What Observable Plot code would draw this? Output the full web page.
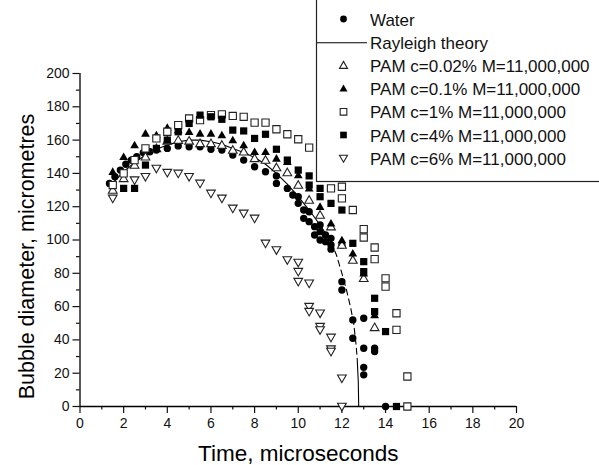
<!DOCTYPE html>
<html><head><meta charset="utf-8">
<script src="https://cdn.jsdelivr.net/npm/d3@7"></script>
<script src="https://cdn.jsdelivr.net/npm/@observablehq/plot@0.6"></script>
<style>
html,body{margin:0;padding:0;background:#fff;}
#chart{width:599px;height:465px;overflow:hidden;}
</style></head><body><div id="chart"></div>
<script>
// ---- data (time in microseconds, bubble diameter in micrometres) ----
const waterT = [1.35,1.6,1.85,2.1,2.35,2.6,2.9,3.2,3.5,4,4.5,5,5.5,6,6.5,7,7.5,8,8.5,9,9,9.5,9.75,10,10,10.25,10.25,10.5,10.5,10.75,10.75,11,11,11,11.25,11.25,11.5,11.5,11.5,12,12,12,12.5,12.5,13,13,13,13,13.5,13.5,14];
const waterD = [134,138,142,145.5,148,150,152.5,153,154,155,156.5,156,156,154.5,154,151,148,144,141,138.5,134,131,127,122,126,118,113,117,111,108,103,109,105,100,103,99,101,97,94.5,97,75,70,52,41,53,35,23.5,19,35,33,0];

const rayT = [1.4,2,2.5,3,3.5,4,4.5,5,5.5,6,6.5,7,7.5,8,8.5,9,9.5,10,10.5,11,11.5,11.75,12,12.2,12.4,12.55,12.65,12.7,12.75,12.77];
const rayD = [133,141,146.5,151,154.5,157,159,160,160,159,157.5,155,152.5,149.5,145.5,140,133.5,126,118,109,99,91,80,70.5,59.5,49,37,29,15,0];

const p002T = [1.5,2,2.5,3,3.5,4,4.5,5,5.5,6,6.5,7,7.5,8,8.5,9,9.5,10,10.5,11,11.5,12,12.5,13,13.5];
const p002D = [130,137,145,150,155,159.5,160,159.5,158,158,157,154,153,149,148,143.5,140.5,133,124,115,108,97,88,77,47.5];

const p01T = [1.5,2,2.5,3,3.5,4,4.5,5,5.5,6,6.5,7,7.5,8,8.5,9,9.5,10,10.5,11,11.5,12,12.5,13,13.5];
const p01D = [141,150,157,164,163,167.5,166,165,164,164,163,160,157,153,153,149,147,139,131,120,110,100,92,80,55];

const p1T = [1.5,2,2.5,3,3.5,4,4.5,5,5.5,6,6.5,7,7.5,8,8.5,9,9.5,10,10.5,11.5,12,12,12.5,13,13,13.5,13.5,14,14,14.5,14.5,15,15];
const p1D = [133,140,148,155,161,165,169,173,172,175,175.5,174.5,174,170.5,170.5,166.5,163.5,160.5,155.5,131,132,125,118,106.5,101.5,95.5,88.5,77,72,56,46,18,0];

const p4T = [2,2.5,3,3.5,4,4.5,5,5.5,6,6.5,7,7.5,8,8.5,9,9.5,10,10.5,10.5,11,11,11.5,12,12.5,13,13,13.5,13.5,14,14.5];
const p4D = [131,131,145,155,160,165,170,175,174,172.5,166,165.5,161,163.5,154.5,148,142,138.5,133,131,126,122,118,98,87,81,65,57,45,0];

const p6T = [1.5,2.5,3,3.5,4,4.5,5,5.5,6,6.5,7,7.5,8,8.5,9,9.5,10,10,10,10.5,10.5,10.5,11,11,11,11.5,11.5,11.5,12,12];
const p6D = [125,136,138,143,140.5,140,138,134,128,125,119,116,113,98,94,88,86.5,81,75,74,60,57,56,48,46,41.5,34.5,33,17,0];

const legendLabels = ["Water","Rayleigh theory","PAM c=0.02% M=11,000,000","PAM c=0.1% M=11,000,000","PAM c=1% M=11,000,000","PAM c=4% M=11,000,000","PAM c=6% M=11,000,000"];
const xTicks = [0,2,4,6,8,10,12,14,16,18,20];
const yTicks = [0,20,40,60,80,100,120,140,160,180,200];

// ---- symbols ----
const rad = s => Math.sqrt(s / Math.PI);
const symUp = {draw(c, s){ const r = rad(s); c.moveTo(0,-1.15*r); c.lineTo(1.15*r,0.85*r); c.lineTo(-1.15*r,0.85*r); c.closePath(); }};
const symDown = {draw(c, s){ const r = rad(s); c.moveTo(0,1.15*r); c.lineTo(1.15*r,-0.85*r); c.lineTo(-1.15*r,-0.85*r); c.closePath(); }};
const symSq = {draw(c, s){ const r = rad(s)*0.95; c.rect(-r,-r,2*r,2*r); }};
const symCirc = {draw(c, s){ const r = rad(s)*0.97; c.moveTo(r,0); c.arc(0,0,r,0,2*Math.PI); }};

const zip = (T, D) => T.map((t, i) => ({t, d: D[i]}));
const water = zip(waterT, waterD);
const ray = zip(rayT, rayD);
const s002 = zip(p002T, p002D), s01 = zip(p01T, p01D), s1 = zip(p1T, p1D), s4 = zip(p4T, p4D), s6 = zip(p6T, p6D);

const R = 3.8;
const openStyle = {stroke: "#222", strokeWidth: 1.1, fill: "white", r: R};
const fillStyle = {stroke: "none", fill: "#000", r: R};

const series = [
  {sym: symCirc, style: fillStyle},
  null,
  {sym: symUp, style: openStyle},
  {sym: symUp, style: fillStyle},
  {sym: symSq, style: openStyle},
  {sym: symSq, style: fillStyle},
  {sym: symDown, style: openStyle}
];

const chart = Plot.plot({
  width: 599, height: 465,
  marginLeft: 79.5, marginRight: 83, marginTop: 73, marginBottom: 59,
  x: {domain: [0, 20]},
  y: {domain: [0, 200]},
  style: {fontFamily: "'Liberation Sans', Arial, sans-serif", fontSize: "14px", color: "#111", background: "#fff", overflow: "visible"},
  marks: [
    Plot.axisX(xTicks, {tickSize: 7, tickPadding: 5, label: null, strokeWidth: 1.2, fontSize: 14}),
    Plot.axisX(d3.range(1, 20, 2), {tickSize: 3.5, text: null, label: null, strokeWidth: 1.2}),
    Plot.axisY(yTicks, {tickSize: 7, tickPadding: 3.5, label: null, strokeWidth: 1.2, fontSize: 14}),
    Plot.axisY(d3.range(10, 200, 20), {tickSize: 3.5, text: null, label: null, strokeWidth: 1.2}),
    Plot.ruleY([0], {stroke: "#000", strokeWidth: 1.3}),
    Plot.ruleX([0], {stroke: "#000", strokeWidth: 1.3}),
    Plot.dot(water, {x: "t", y: "d", symbol: symCirc, ...fillStyle}),
    Plot.line(ray.filter(p => p.t <= 11.5), {x: "t", y: "d", stroke: "#000", strokeWidth: 1.1}),
    Plot.line(ray.filter(p => p.t >= 11.5 && p.t <= 12.7), {x: "t", y: "d", stroke: "#000", strokeWidth: 1.1, strokeDasharray: "6,4"}),
    Plot.line(ray.filter(p => p.t >= 12.7), {x: "t", y: "d", stroke: "#000", strokeWidth: 1.1}),
    Plot.dot(s002, {x: "t", y: "d", symbol: symUp, ...openStyle}),
    Plot.dot(s01, {x: "t", y: "d", symbol: symUp, ...fillStyle}),
    Plot.dot(s1, {x: "t", y: "d", symbol: symSq, ...openStyle}),
    Plot.dot(s4, {x: "t", y: "d", symbol: symSq, ...fillStyle}),
    Plot.dot(s6, {x: "t", y: "d", symbol: symDown, ...openStyle}),
    Plot.text(["Time, microseconds"], {frameAnchor: "bottom", dy: 54, lineAnchor: "bottom", fontSize: 22.5, fill: "#000"}),
    Plot.text(["Bubble diameter, micrometres"], {frameAnchor: "left", dx: -46.5, dy: 16.5, rotate: -90, lineAnchor: "bottom", textAnchor: "middle", fontSize: 21.5, fill: "#000"})
  ]
});
document.getElementById("chart").appendChild(chart);

// ---- legend ----
const svg = d3.select(chart);
const lg = svg.append("g").attr("text-anchor", "start");
lg.append("rect").attr("x", 316.5).attr("y", -5).attr("width", 300).attr("height", 186.5)
  .attr("fill", "white").attr("stroke", "#222").attr("stroke-width", 1.2);
legendLabels.forEach((lab, i) => {
  const cy = 19 + i * 23.2;
  const s = series[i];
  if (s) {
    lg.append("path")
      .attr("transform", `translate(343.5,${cy})`)
      .attr("d", d3.symbol().type(s.sym).size(Math.PI * 3.5 * 3.5)())
      .attr("fill", s.style.fill).attr("stroke", s.style.stroke).attr("stroke-width", s.style.strokeWidth || 0);
  } else {
    lg.append("line").attr("x1", 317).attr("x2", 367).attr("y1", cy + 0.5).attr("y2", cy + 0.5)
      .attr("stroke", "#000").attr("stroke-width", 1.1);
  }
  lg.append("text").attr("x", 370).attr("y", cy + 6.5).text(lab)
    .attr("text-anchor", "start")
    .attr("font-size", 17).attr("fill", "#111")
    .attr("font-family", "'Liberation Sans', Arial, sans-serif");
});
</script></body></html>
